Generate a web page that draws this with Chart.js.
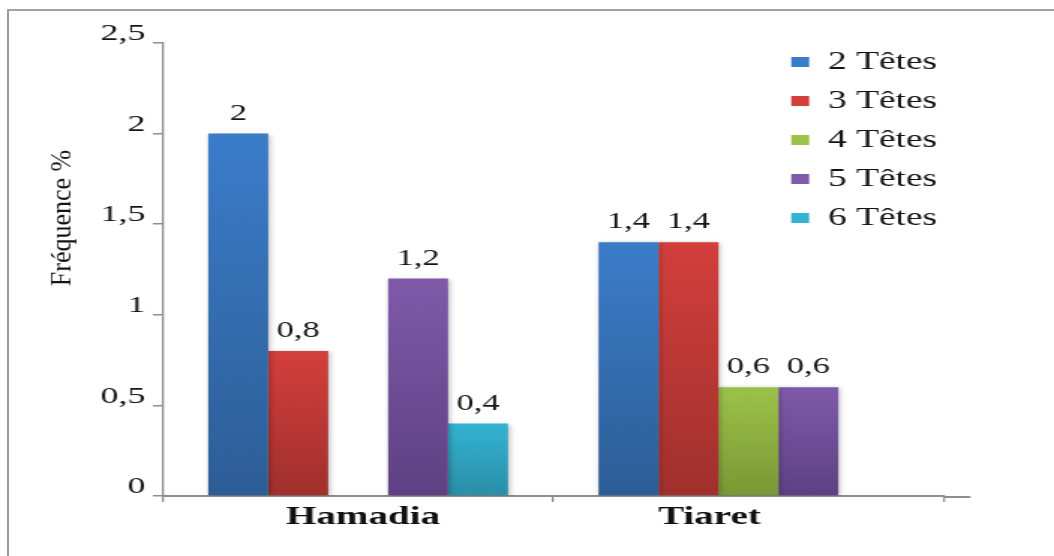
<!DOCTYPE html>
<html>
<head>
<meta charset="utf-8">
<script src="https://cdn.jsdelivr.net/npm/chart.js@4/dist/chart.umd.min.js"></script>
<style>
  html, body { margin: 0; padding: 0; background: #fff; width: 1054px; height: 556px; overflow: hidden; }
  #frame { position: absolute; left: 7px; top: 9px; width: 1100px; height: 600px;
           border-left: 2.5px solid #9a9a9a; border-top: 2px solid #a3a3a3; }
  #wrap { position: absolute; left: 0; top: 0; width: 703px; height: 556px;
          transform: scaleX(1.4993); transform-origin: 0 0; }
  #c { width: 703px; height: 556px; }
</style>
</head>
<body>
<div id="frame"></div>
<div id="wrap"><canvas id="c" width="703" height="556"></canvas></div>
<script>
// Categories (sites) and frequencies (%) per number of heads
const categories = ['Hamadia', 'Tiaret'];
const seriesNames = ['2 Têtes', '3 Têtes', '4 Têtes', '5 Têtes', '6 Têtes'];
const tetes2 = [2, 1.4];
const tetes3 = [0.8, 1.4];
const tetes4 = [null, 0.6];
const tetes5 = [1.2, 0.6];
const tetes6 = [0.4, null];
const yTicks = [0, 0.5, 1, 1.5, 2, 2.5];
const yTitle = 'Fréquence %';

// Top / bottom gradient colours for each series
const topColors = ['#3b7cc9', '#d33f3c', '#9dc24a', '#7f5aa9', '#33b3d2'];
const bottomColors = ['#2d5d96', '#a0302d', '#789834', '#5e4083', '#2a8ea7'];

const serif = '"Liberation Serif", "Times New Roman", serif';
const inkColor = '#141414';
const axisColor = '#8e8e8e';

function barFill(i) {
  return (ctx) => {
    const chart = ctx.chart;
    if (!chart.chartArea || ctx.raw == null || ctx.type !== 'data') return topColors[i];
    const y = chart.scales.y;
    const y0 = y.getPixelForValue(ctx.raw);
    const y1 = y.getPixelForValue(0);
    const g = chart.ctx.createLinearGradient(0, y0, 0, y1);
    g.addColorStop(0, topColors[i]);
    g.addColorStop(1, bottomColors[i]);
    return g;
  };
}

const seriesValues = [tetes2, tetes3, tetes4, tetes5, tetes6];
const datasets = seriesNames.map((name, i) => ({
  label: name,
  data: seriesValues[i],
  backgroundColor: barFill(i),
  borderWidth: 0,
  categoryPercentage: 0.768,
  barPercentage: 1.0
}));

const fmt = (v) => String(v).replace('.', ',');

// Category labels sit slightly off the category centre (under the drawn bars)
const labelPad = [[' ', ''], ['', '        ']];

// Soft shadow under bars, then value labels above them
const barDecor = {
  id: 'barDecor',
  beforeDatasetsDraw(chart) {
    const ctx = chart.ctx;
    ctx.save();
    ctx.shadowColor = 'rgba(0,0,0,0.28)';
    ctx.shadowBlur = 4;
    ctx.shadowOffsetX = 1;
    ctx.shadowOffsetY = 1;
  },
  afterDatasetsDraw(chart) {
    const ctx = chart.ctx;
    ctx.restore();
    ctx.save();
    ctx.font = '23px ' + serif;
    ctx.fillStyle = inkColor;
    ctx.textAlign = 'center';
    ctx.textBaseline = 'alphabetic';
    chart.data.datasets.forEach((ds, di) => {
      const meta = chart.getDatasetMeta(di);
      meta.data.forEach((el, j) => {
        const v = ds.data[j];
        if (v == null) return;
        ctx.fillText(fmt(v), el.x, el.y - 14);
      });
    });
    ctx.restore();
  }
};

// Legend placed in the upper right part of the plot
const legendSpot = {
  id: 'legendSpot',
  afterUpdate(chart) {
    const lg = chart.legend;
    if (!lg) return;
    const w = lg.width, h = lg.height;
    lg.left = chart.chartArea.left + 405;
    lg.top = chart.chartArea.top - 7.5;
    lg.right = lg.left + w;
    lg.bottom = lg.top + h;
    lg.adjustHitBoxes();
  }
};

// Axis title and the small run-out of the category axis line
const axisExtras = {
  id: 'axisExtras',
  afterDraw(chart) {
    const ctx = chart.ctx;
    const ca = chart.chartArea;
    ctx.save();
    ctx.strokeStyle = axisColor;
    ctx.lineWidth = 2;
    ctx.beginPath();
    ctx.moveTo(ca.right, ca.bottom + 1);
    ctx.lineTo(ca.right + 18, ca.bottom + 1);
    ctx.stroke();
    ctx.restore();

    ctx.save();
    ctx.translate(42, 218);
    ctx.scale(0.75, 1);
    ctx.rotate(-Math.PI / 2);
    ctx.font = '26px ' + serif;
    ctx.fillStyle = inkColor;
    ctx.textAlign = 'center';
    ctx.textBaseline = 'middle';
    ctx.fillText(yTitle, 0, 0);
    ctx.restore();
  }
};

new Chart(document.getElementById('c'), {
  type: 'bar',
  data: { labels: categories, datasets },
  plugins: [barDecor, legendSpot, axisExtras],
  options: {
    responsive: false,
    animation: false,
    devicePixelRatio: 1,
    layout: { padding: { left: 0, top: 43, right: 73.7, bottom: 0 } },
    plugins: {
      tooltip: { enabled: false },
      legend: {
        position: 'chartArea',
        align: 'start',
        labels: {
          font: { family: serif, size: 25 },
          color: inkColor,
          boxWidth: 12,
          boxHeight: 10,
          padding: 14
        }
      }
    },
    scales: {
      x: {
        offset: true,
        grid: { offset: true, drawOnChartArea: false, drawTicks: true, tickLength: 6, color: axisColor, lineWidth: 1.3 },
        border: { display: true, color: axisColor, width: 2 },
        ticks: {
          font: { family: serif, size: 26, weight: 'bold' },
          color: '#111',
          padding: 0,
          callback: (v, i) => labelPad[i][0] + categories[i] + labelPad[i][1]
        },
        afterFit(scale) { scale.height = 60; }
      },
      y: {
        min: yTicks[0],
        max: yTicks[yTicks.length - 1],
        afterBuildTicks(scale) { scale.ticks = yTicks.map(v => ({ value: v })); },
        grid: { drawOnChartArea: false, drawTicks: true, tickLength: 6.7, color: axisColor, lineWidth: 1.5 },
        border: { display: true, color: axisColor, width: 1.3 },
        ticks: {
          font: { family: serif, size: 24 },
          color: inkColor,
          padding: 5,
          labelOffset: -9,
          callback: (v) => fmt(v)
        },
        afterFit(scale) { scale.width = 108.7; }
      }
    }
  }
});
</script>
</body>
</html>
